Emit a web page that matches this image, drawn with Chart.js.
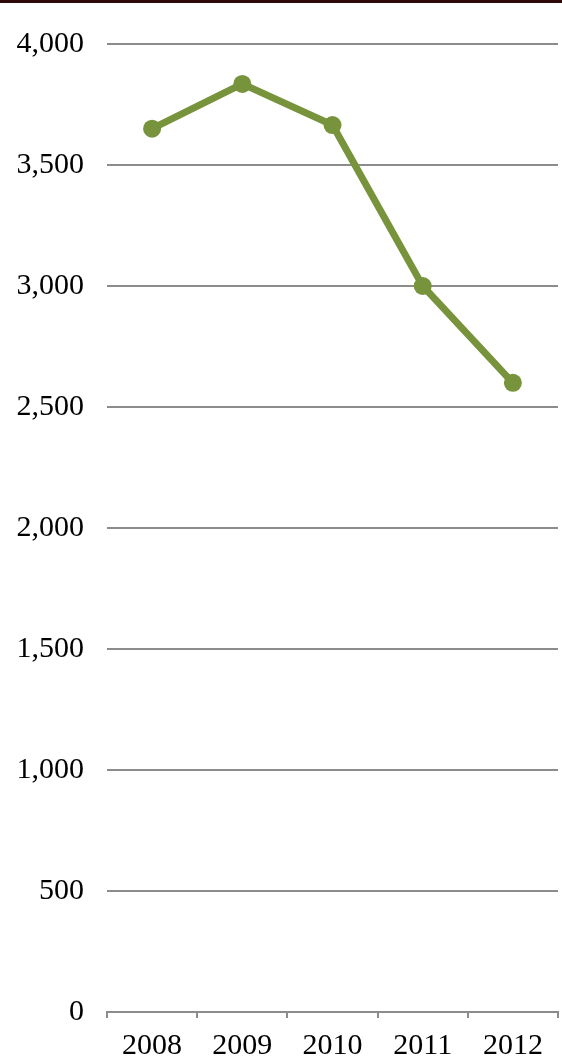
<!DOCTYPE html>
<html>
<head>
<meta charset="utf-8">
<script src="https://cdn.jsdelivr.net/npm/chart.js@4"></script>
<style>
    body { margin: 0; background: #fff; }
    #wrap { position: relative; width: 562px; height: 1057px; }
    #topline { position: absolute; left: 0; top: 0; width: 562px; height: 3px; background: #2e0a0a; }
</style>
</head>
<body>
<div id="wrap">
    <canvas id="trendLine" width="562" height="1057"></canvas>
    <div id="topline"></div>
</div>
<script>
// data
var years = ['2008', '2009', '2010', '2011', '2012']
var values = [3650, 3835, 3665, 3000, 2600]
var yTicks = [0, 500, 1000, 1500, 2000, 2500, 3000, 3500, 4000]

var green = '#77933c'
var gray = '#8c8c8c'
var font = { family: '"Liberation Serif", "Times New Roman", serif', size: 30 }

window.addEventListener("load", (event) => {

    var ctx = document.getElementById('trendLine')

    new Chart(ctx, {
        type: 'line',
        data: {
            labels: years,
            datasets: [{
                data: values,
                borderColor: green,
                borderWidth: 7,
                backgroundColor: green,
                pointBackgroundColor: green,
                pointBorderWidth: 0,
                pointRadius: 9,
                tension: 0,
                fill: false
            }]
        },
        options: {
            responsive: false,
            animation: false,
            layout: {
                autoPadding: false,
                padding: { top: 44, right: 4, left: 0, bottom: 0 }
            },
            plugins: {
                legend: { display: false },
                tooltip: { enabled: false }
            },
            scales: {
                x: {
                    offset: true,
                    grid: {
                        offset: true,
                        drawOnChartArea: false,
                        drawTicks: true,
                        tickLength: 6,
                        color: gray,
                        lineWidth: 2
                    },
                    border: { display: true, color: gray, width: 2 },
                    ticks: { color: '#000', font: font, padding: 10, maxRotation: 0 },
                    afterFit: function (scale) {
                        scale.height = 45
                        scale.paddingLeft = 0
                        scale.paddingRight = 0
                    }
                },
                y: {
                    min: 0,
                    max: 4000,
                    afterBuildTicks: function (scale) {
                        scale.ticks = yTicks.map(v => ({ value: v }))
                    },
                    grid: { color: gray, lineWidth: 2, drawTicks: false },
                    border: { display: false },
                    ticks: {
                        color: '#000',
                        font: font,
                        padding: 23,
                        callback: function (v) { return v.toLocaleString('en-US') }
                    },
                    afterFit: function (scale) { scale.width = 107 }
                }
            }
        }
    })
});
</script>
</body>
</html>
